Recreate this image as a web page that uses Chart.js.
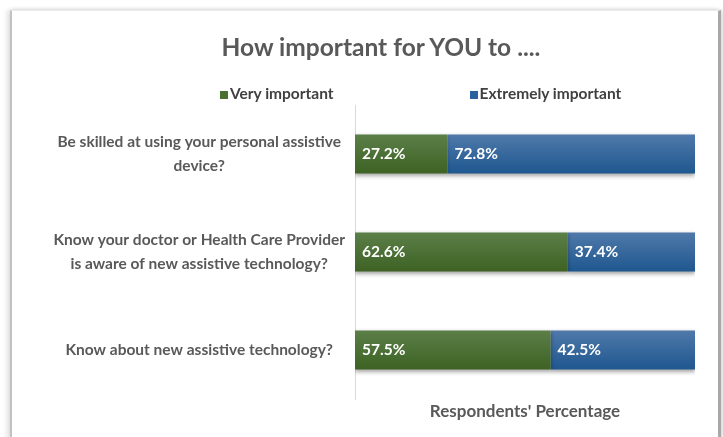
<!DOCTYPE html>
<html>
<head>
<meta charset="utf-8">
<script src="https://cdn.jsdelivr.net/npm/chart.js@4/dist/chart.umd.min.js"></script>
<style>
  html, body { margin: 0; padding: 0; background: #fff; overflow: hidden; }
  #frame {
    position: absolute; left: 10px; top: 10px; width: 706px; height: 440px;
    border-left: 2px solid #c2c2c2; border-top: 1px solid #ececec; border-right: 3px solid #a8a8a8;
    box-shadow: -3px 0 5px rgba(0, 0, 0, 0.12), 2px 0 4px rgba(0, 0, 0, 0.15);
    background: #fff;
  }
  #chart { position: absolute; left: 0; top: 0; }
  #title {
    position: absolute; left: 0; top: 32px; width: 762px; text-align: center;
    font: bold 24.5px/29px Lato, "Open Sans", sans-serif; color: #595959;
  }
  #legend {
    position: absolute; left: 220px; top: 84px; display: flex; gap: 136px;
    font: bold 15.5px Lato, "Open Sans", sans-serif; color: #404040;
  }
  #legend span.box { display: inline-block; width: 8px; height: 8px; margin-right: 2px; }
</style>
</head>
<body>
<div id="frame"></div>
<canvas id="chart" width="723" height="437"></canvas>
<div id="title">How important for YOU to ....</div>
<div id="legend"></div>
<script>
const categories = [
  ['Be skilled at using your personal assistive', 'device?'],
  ['Know your doctor or Health Care Provider', 'is aware of new assistive technology?'],
  'Know about new assistive technology?',
];
const veryImportant = [27.2, 62.6, 57.5];
const extremelyImportant = [72.8, 37.4, 42.5];

const FONT = 'Lato, "Open Sans", sans-serif';
const GREY = '#595959';

// vertical gradient across each bar, Excel style
function barFill(top, bottom) {
  return (ctx) => {
    const chart = ctx.chart;
    const y = chart.scales.y;
    if (!chart.chartArea || !y) return bottom;
    const band = (y.bottom - y.top) / categories.length;
    const half = band * 0.4 / 2;
    const mid = y.getPixelForValue(ctx.dataIndex);
    const g = chart.ctx.createLinearGradient(0, mid - half, 0, mid + half);
    g.addColorStop(0, top);
    g.addColorStop(1, bottom);
    return g;
  };
}

const barShadow = {
  id: 'barShadow',
  beforeDatasetsDraw(chart) {
    const c = chart.ctx;
    c.save();
    c.shadowColor = 'rgba(0,0,0,0.35)';
    c.shadowBlur = 4;
    c.shadowOffsetY = 2;
  },
  afterDatasetsDraw(chart) {
    chart.ctx.restore();
  },
};

// percentage text at the left end of each segment
const segmentLabels = {
  id: 'segmentLabels',
  afterDatasetsDraw(chart) {
    const c = chart.ctx;
    c.save();
    c.font = `bold 15.5px ${FONT}`;
    c.fillStyle = '#fff';
    c.textAlign = 'left';
    c.textBaseline = 'middle';
    chart.data.datasets.forEach((ds, i) => {
      chart.getDatasetMeta(i).data.forEach((bar, j) => {
        c.fillText(`${ds.data[j].toFixed(1)}%`, bar.base + 7, bar.y);
      });
    });
    c.restore();
  },
};

const chart = new Chart(document.getElementById('chart'), {
  type: 'bar',
  data: {
    labels: categories,
    datasets: [
      {
        label: 'Very important',
        data: veryImportant,
        backgroundColor: barFill('#5b7f48', '#3d6223'),
        legendColor: '#4a7030',
      },
      {
        label: 'Extremely important',
        data: extremelyImportant,
        backgroundColor: barFill('#5079aa', '#1e578f'),
        legendColor: '#2a62a0',
      },
    ],
  },
  options: {
    responsive: false,
    animation: false,
    indexAxis: 'y',
    barPercentage: 0.4,
    categoryPercentage: 1,
    layout: { padding: { left: 0, right: 28, top: 105, bottom: 0 } },
    plugins: {
      legend: { display: false },
      tooltip: { enabled: false },
    },
    scales: {
      x: {
        stacked: true,
        min: 0,
        max: 100,
        grid: { display: false },
        border: { display: false },
        ticks: { display: false },
        title: {
          display: true,
          text: "Respondents' Percentage",
          color: GREY,
          font: { family: FONT, size: 17, weight: 'bold', lineHeight: 1.2 },
          padding: { top: 0, bottom: 15 },
        },
        afterFit(scale) { scale.height = 38; },
      },
      y: {
        stacked: true,
        grid: { display: false, drawTicks: false },
        border: { display: true, color: '#d9d9d9', width: 1 },
        ticks: {
          color: GREY,
          padding: 10,
          crossAlign: 'center',
          font: { family: FONT, size: 15.5, weight: 'bold', lineHeight: 1.5 },
        },
        afterFit(scale) { scale.width = 355; },
      },
    },
  },
  plugins: [barShadow, segmentLabels],
});

// html legend built from the datasets
const legend = document.getElementById('legend');
chart.data.datasets.forEach((ds) => {
  const item = document.createElement('div');
  item.innerHTML = `<span class="box" style="background:${ds.legendColor}"></span>${ds.label}`;
  legend.appendChild(item);
});
</script>
</body>
</html>
